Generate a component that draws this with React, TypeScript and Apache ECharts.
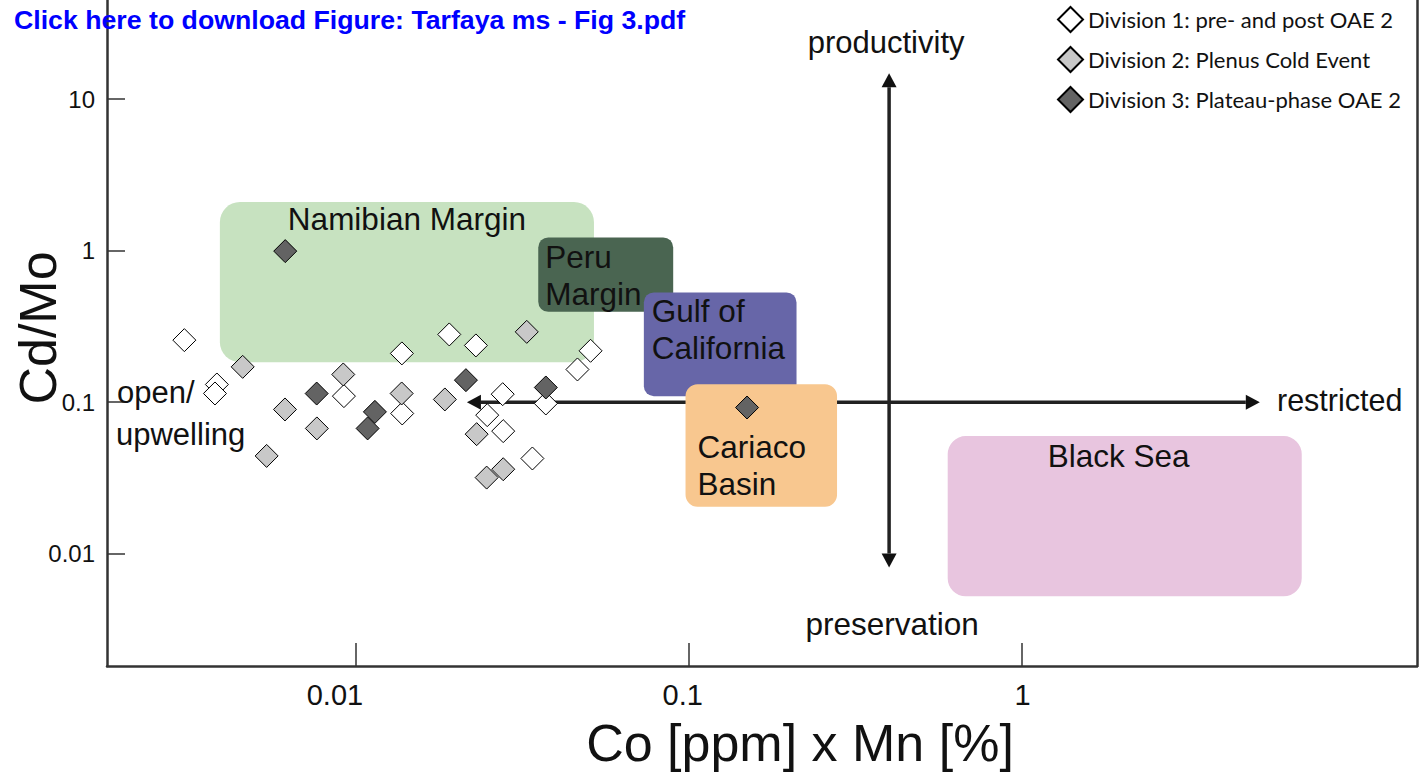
import React, { useEffect, useRef } from "react";
import * as echarts from "echarts";

// ---- axis ticks ----
const xTicks = [0.01, 0.1, 1];
const yTicks = [0.01, 0.1, 1, 10];
const xMin = 0.001786;
const xMax = 15.43;
const yMin = 0.001817;
const yMax = 45.0;

// ---- series ----
const div1Name = "Division 1: pre- and post OAE 2";
const div2Name = "Division 2: Plenus Cold Event";
const div3Name = "Division 3: Plateau-phase OAE 2";

const div1X = [0.00305, 0.00382, 0.00377, 0.01374, 0.01907, 0.02293, 0.0092, 0.01377, 0.0276, 0.0248, 0.0277, 0.0339, 0.0372, 0.0463, 0.0507];
const div1Y = [0.2565, 0.1308, 0.1141, 0.2097, 0.2798, 0.2367, 0.1096, 0.0842, 0.1129, 0.0821, 0.0644, 0.0425, 0.098, 0.1643, 0.2182];

const div2X = [0.004567, 0.009159, 0.00612, 0.00763, 0.01372, 0.0185, 0.02305, 0.0247, 0.0277, 0.0326, 0.00539];
const div2Y = [0.171, 0.1523, 0.0895, 0.0671, 0.1141, 0.1042, 0.0615, 0.0318, 0.0361, 0.291, 0.0442];

const div3X = [0.00613, 0.00762, 0.0114, 0.01084, 0.0214, 0.0372, 0.1497];
const div3Y = [0.992, 0.114, 0.0863, 0.0671, 0.1397, 0.125, 0.0922];

// ---- environment regions ----
const regionNames = ["Namibian Margin", "Peru\nMargin", "Gulf of\nCalifornia", "Cariaco\nBasin", "Black Sea"];
const regionXMin = [0.0039, 0.0353, 0.0733, 0.0978, 0.6];
const regionXMax = [0.0519, 0.0898, 0.2108, 0.279, 6.95];
const regionYMin = [0.1837, 0.3945, 0.1096, 0.0204, 0.00524];
const regionYMax = [2.09, 1.222, 0.53, 0.1315, 0.0597];

// ---- arrows (data coords) ----
const arrowHX = [0.02155, 5.2];
const arrowHY = 0.1;
const arrowVX = 0.4;
const arrowVY = [14.8, 0.0081];

// ---- styles ----
const regionColors = ["#c7e2c0", "#4a6551", "#6766a8", "#f8c78f", "#e8c5df"];
const regionRadius = [20, 10, 10, 12, 18];
const regionAlign = ["center", "left", "left", "left", "center"];
const regionPadX = [0, 7, 8, 12, -6];
const regionTextTop = [-2, 1, 0, 44, 1];

const FONT = '"Liberation Sans", Arial, sans-serif';

export default function App() {
  const ref = useRef<HTMLDivElement>(null);
  useEffect(() => {
    document.body.style.margin = "0";
    const chart = echarts.init(ref.current!, null, { renderer: "svg" });
    const regionData = regionNames.map((n, i) => [regionXMin[i], regionYMin[i], regionXMax[i], regionYMax[i]]);
    const xRich: any = {
      a: { fontSize: 29, fontFamily: FONT, color: "#111", padding: [0, 42, 0, 0] },
      b: { fontSize: 29, fontFamily: FONT, color: "#111", padding: [0, 12, 0, 0] },
      c: { fontSize: 29, fontFamily: FONT, color: "#111", padding: [0, 0, 0, 2] },
    };
    const xKeys = ["a", "b", "c"];
    const option: any = {
      animation: false,
      backgroundColor: "#ffffff",
      grid: { left: 107, right: 3, top: 0, bottom: 106, containLabel: false },
      legend: {
        orient: "vertical",
        left: 1057,
        top: 6,
        itemWidth: 25,
        itemHeight: 25,
        itemGap: 13,
        padding: 0,
        data: [div1Name, div2Name, div3Name],
        textStyle: { fontSize: 22, fontFamily: "Lato", color: "#111" },
      },
      xAxis: {
        type: "log",
        logBase: 10,
        min: xMin,
        max: xMax,
        splitLine: { show: false },
        minorTick: { show: false },
        axisLine: { show: true, lineStyle: { color: "#333", width: 2.5 } },
        axisTick: { show: true, inside: true, length: 23, customValues: xTicks, lineStyle: { color: "#333", width: 1.5 } },
        axisLabel: {
          customValues: xTicks,
          margin: 14,
          fontSize: 29,
          fontFamily: FONT,
          color: "#111",
          formatter: (v: number) => {
            const i = xTicks.findIndex((t) => Math.abs(Math.log10(t) - Math.log10(v)) < 1e-6);
            if (i < 0) return "";
            return "{" + xKeys[i] + "|" + String(xTicks[i]) + "}";
          },
          rich: xRich,
        },
      },
      yAxis: [
        {
          type: "log",
          logBase: 10,
          min: yMin,
          max: yMax,
          splitLine: { show: false },
          minorTick: { show: false },
          axisLine: { show: true, lineStyle: { color: "#333", width: 2.5 } },
          axisTick: { show: true, inside: true, length: 18, customValues: yTicks, lineStyle: { color: "#333", width: 1.5 } },
          axisLabel: {
            customValues: yTicks,
            margin: 12,
            fontSize: 24,
            fontFamily: FONT,
            color: "#111",
            formatter: (v: number) => {
              const i = yTicks.findIndex((t) => Math.abs(Math.log10(t) - Math.log10(v)) < 1e-6);
              return i < 0 ? "" : String(yTicks[i]);
            },
          },
        },
        {
          type: "value",
          position: "right",
          min: 0,
          max: 1,
          splitLine: { show: false },
          axisTick: { show: false },
          axisLabel: { show: false },
          axisLine: { show: true, lineStyle: { color: "#333", width: 2.5 } },
        },
      ],
      series: [
        {
          type: "custom",
          name: "regions",
          silent: true,
          z: 2,
          xAxisIndex: 0,
          yAxisIndex: 0,
          encode: { x: [0, 2], y: [1, 3] },
          data: regionData,
          renderItem: (params: any, api: any) => {
            const i = params.dataIndex;
            const p0 = api.coord([api.value(0), api.value(3)]);
            const p1 = api.coord([api.value(2), api.value(1)]);
            const w = p1[0] - p0[0];
            const h = p1[1] - p0[1];
            const align = regionAlign[i];
            const tx = align === "center" ? p0[0] + w / 2 + regionPadX[i] : p0[0] + regionPadX[i];
            return {
              type: "group",
              children: [
                {
                  type: "rect",
                  shape: { x: p0[0], y: p0[1], width: w, height: h, r: regionRadius[i] },
                  style: { fill: regionColors[i] },
                },
                {
                  type: "text",
                  style: {
                    text: regionNames[i],
                    x: tx,
                    y: p0[1] + regionTextTop[i],
                    align: align,
                    verticalAlign: "top",
                    fontSize: 31.5,
                    fontFamily: FONT,
                    lineHeight: 37,
                    fill: "#111",
                  },
                },
              ],
            };
          },
        },
        {
          type: "scatter",
          name: div1Name,
          z: 4,
          symbol: "diamond",
          symbolSize: 23,
          itemStyle: { color: "#ffffff", borderColor: "#000", borderWidth: 1, opacity: 1 },
          data: div1X.map((x, i) => [x, div1Y[i]]),
        },
        {
          type: "scatter",
          name: div2Name,
          z: 4,
          symbol: "diamond",
          symbolSize: 23,
          itemStyle: { color: "#c8c8c8", borderColor: "#000", borderWidth: 1, opacity: 1 },
          data: div2X.map((x, i) => [x, div2Y[i]]),
        },
        {
          type: "scatter",
          name: div3Name,
          z: 4,
          symbol: "diamond",
          symbolSize: 23,
          itemStyle: { color: "#636363", borderColor: "#000", borderWidth: 1, opacity: 1 },
          data: div3X.map((x, i) => [x, div3Y[i]]),
        },
      ],
    };
    chart.setOption(option);

    const toPx = (x: number, y: number) => chart.convertToPixel({ xAxisIndex: 0, yAxisIndex: 0 }, [x, y]) as number[];
    const arrowColor = "#222";
    const headL = 14;
    const headW = 7.5;
    const doubleArrow = (a: number[], b: number[]) => {
      const dx = b[0] - a[0];
      const dy = b[1] - a[1];
      const len = Math.sqrt(dx * dx + dy * dy);
      const ux = dx / len;
      const uy = dy / len;
      const px = -uy;
      const py = ux;
      const a2 = [a[0] + ux * headL, a[1] + uy * headL];
      const b2 = [b[0] - ux * headL, b[1] - uy * headL];
      return [
        { type: "line", z: 1, shape: { x1: a2[0], y1: a2[1], x2: b2[0], y2: b2[1] }, style: { stroke: arrowColor, lineWidth: 3.5 } },
        { type: "polygon", z: 1, shape: { points: [a, [a2[0] + px * headW, a2[1] + py * headW], [a2[0] - px * headW, a2[1] - py * headW]] }, style: { fill: "#111" } },
        { type: "polygon", z: 1, shape: { points: [b, [b2[0] + px * headW, b2[1] + py * headW], [b2[0] - px * headW, b2[1] - py * headW]] }, style: { fill: "#111" } },
      ];
    };
    const hA = toPx(arrowHX[0], arrowHY);
    const hB = toPx(arrowHX[1], arrowHY);
    const vA = toPx(arrowVX, arrowVY[0]);
    const vB = toPx(arrowVX, arrowVY[1]);
    const txt = (text: string, x: number, y: number, size: number, align: string) => ({
      type: "text",
      z: 6,
      x,
      y,
      style: { text, fontSize: size, fontFamily: FONT, fill: "#111", align, verticalAlign: "middle" },
    });
    chart.setOption({
      graphic: [
        ...doubleArrow(hA, hB),
        ...doubleArrow(vA, vB),
        txt("productivity", vA[0] - 3, 42, 31, "center"),
        txt("preservation", vA[0] + 3, 624, 31.5, "center"),
        txt("restricted", 1277, 400, 30.5, "left"),
        txt("open/", 117, 392, 31, "left"),
        txt("upwelling", 116, 434, 31, "left"),
        { type: "text", z: 6, x: 38, y: 328, rotation: Math.PI / 2, style: { text: "Cd/Mo", fontSize: 52, fontFamily: FONT, fill: "#111", align: "center", verticalAlign: "middle" } },
        txt("Co [ppm] x Mn [%]", 800, 743, 52, "center"),
        { type: "text", z: 6, x: 14, y: 20, style: { text: "Click here to download Figure: Tarfaya ms - Fig 3.pdf", fontSize: 26.7, fontWeight: "bold", fontFamily: FONT, fill: "#0000ff", align: "left", verticalAlign: "middle" } },
      ],
    });
    return () => chart.dispose();
  }, []);
  return <div ref={ref} style={{ width: 1420, height: 772 }} />;
}
